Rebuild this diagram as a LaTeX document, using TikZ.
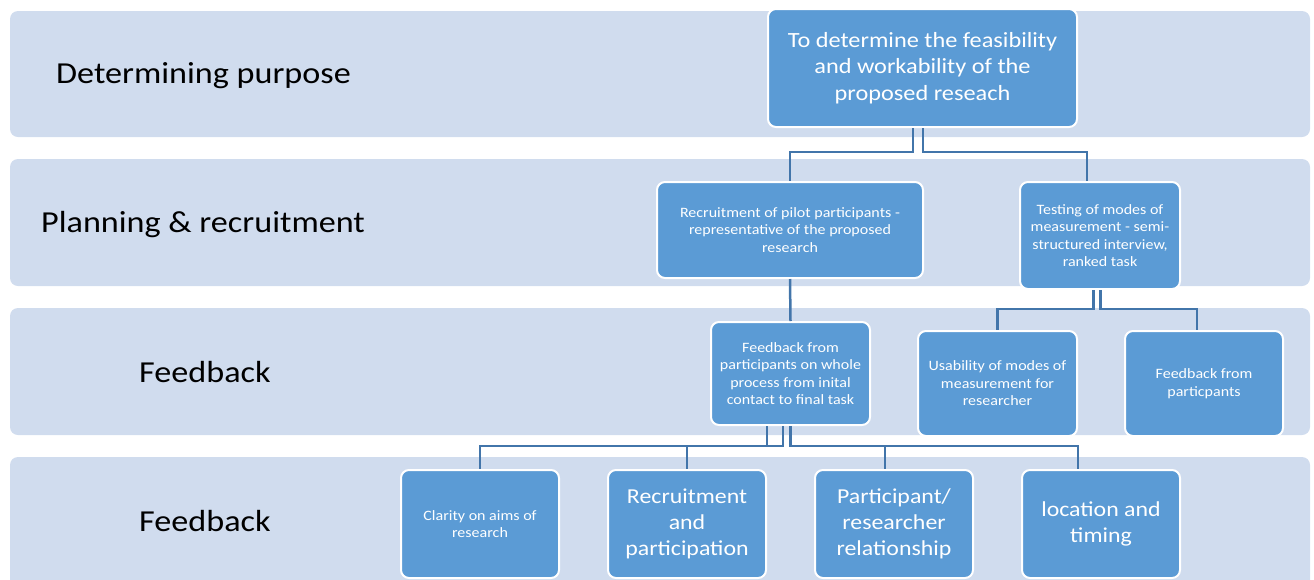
\documentclass[tikz,border=0pt]{standalone}
\usepackage{fontspec}
\setmainfont{Carlito}[FakeStretch=1.12]
\definecolor{bandfill}{RGB}{208,220,238}
\definecolor{boxblue}{RGB}{91,155,213}
\definecolor{linkblue}{RGB}{66,117,170}
\tikzset{
  band/.style={fill=bandfill, draw=none, rounded corners=8pt},
  phase/.style={anchor=base west, inner sep=0pt, font=\fontsize{30.5}{36}\selectfont},
  stepbox/.style={draw=white, line width=2pt, fill=boxblue, rounded corners=8pt,
    text=white, align=center, inner sep=0pt},
  small/.style={font=\fontsize{14.3}{17.5}\selectfont},
  large/.style={font=\fontsize{21.3}{26.2}\selectfont},
  link/.style={draw=linkblue, line width=2.5pt}
}
\begin{document}
\begin{tikzpicture}[x=1pt, y=-1pt]
\useasboundingbox (0,0) rectangle (1314,579);
\clip (0,0) rectangle (1314,579);

% phase bands
\fill[band] (10,11) rectangle (1310,137);
\fill[band] (10,159) rectangle (1310,286);
\fill[band] (10,308) rectangle (1310,435);
\fill[band] (10,457) rectangle (1310,600);

% phase labels
\node[phase] (l1) at (56,83) {Determining purpose};
\node[phase] (l2) at (41,232) {Planning \& recruitment};
\node[phase] (l3) at (139,382) {Feedback};
\node[phase] (l4) at (139,531) {Feedback};

% boxes
\node[stepbox, minimum width=309pt, minimum height=118pt,
  font=\fontsize{21.7}{26.5}\selectfont] (aim) at (922.5,68)
  {To determine the feasibility\\and workability of the\\proposed reseach};

\node[stepbox, small, minimum width=266pt, minimum height=96pt] (recr) at (790,230)
  {Recruitment of pilot participants -\\representative of the proposed\\research};
\node[stepbox, small, minimum width=160pt, minimum height=107pt] (test) at (1100,235.5)
  {Testing of modes of\\measurement - semi-\\structured interview,\\ranked task};

\node[stepbox, small, minimum width=159pt, minimum height=103pt] (fbp) at (790.5,373.5)
  {Feedback from\\participants on whole\\process from inital\\contact to final task};
\node[stepbox, small, minimum width=159pt, minimum height=105pt] (use) at (997.5,383.5)
  {Usability of modes of\\measurement for\\researcher};
\node[stepbox, small, minimum width=158pt, minimum height=105pt] (fbq) at (1204,383.5)
  {Feedback from\\particpants};

\node[stepbox, small, minimum width=158pt, minimum height=108pt] (c1) at (480,524)
  {Clarity on aims of\\research};
\node[stepbox, large, minimum width=158pt, minimum height=108pt] (c2) at (687,524)
  {Recruitment\\and\\participation};
\node[stepbox, large, minimum width=158pt, minimum height=108pt] (c3) at (894,524)
  {Participant/\\researcher\\relationship};
\node[stepbox, large, minimum width=158pt, minimum height=108pt] (c4) at (1101,524)
  {location and\\timing};

% connectors
\draw[link] ([xshift=-9.5pt]aim.south) |- (790,152) -- (recr.north);
\draw[link] ([xshift=0.5pt]aim.south) |- (1087,152) -- ([xshift=-13pt]test.north);

\draw[link] (recr.south) -- (fbp.north);

\draw[link] ([xshift=-6.5pt]test.south) |- (997.5,309) -- (use.north);
\draw[link] ([xshift=0.5pt]test.south) |- (1197,309) -- ([xshift=-7pt]fbq.north);

\draw[link] ([xshift=-23.5pt]fbp.south) |- (480,446) -- (c1.north);
\draw[link] ([xshift=-7.5pt]fbp.south) |- (687,446) -- (c2.north);
\draw[link] (fbp.south) |- (885,446) -- ([xshift=-9pt]c3.north);
\draw[link] (fbp.south) |- (1078,446) -- ([xshift=-23pt]c4.north);
\end{tikzpicture}
\end{document}
